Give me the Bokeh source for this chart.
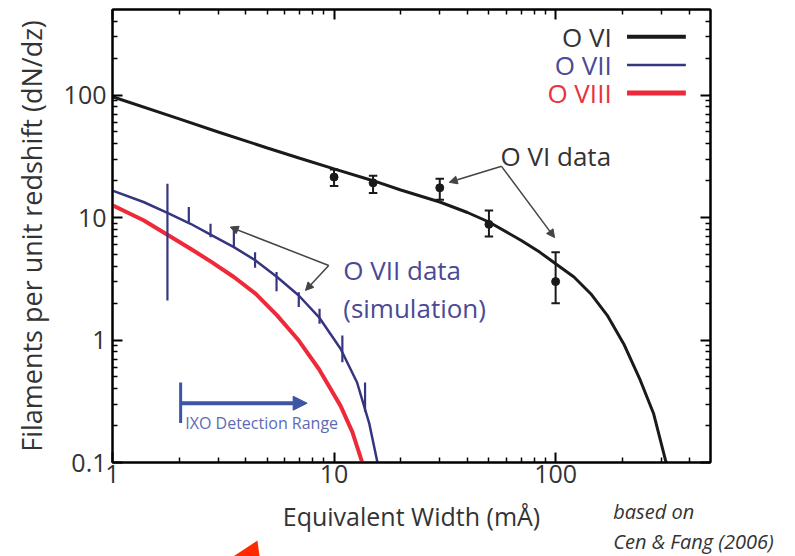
from bokeh.plotting import figure
from bokeh.models import (Range1d, LogAxis, FixedTicker, CustomJSTickFormatter,
                          Arrow, NormalHead)
from bokeh.core.properties import value
from bokeh.embed import file_html
from bokeh.resources import INLINE

# ---------------- data ----------------
ovi_x = [1, 2, 3, 5, 7, 10, 15, 20, 30, 40, 50, 70, 85, 100, 121, 144, 171, 203, 241, 277, 313, 316]
ovi_y = [97, 64, 50, 37, 30.5, 25, 20, 16.8, 13.4, 11, 9.2, 6.5, 5.2, 4.2, 3.27, 2.39, 1.59, 0.93, 0.47, 0.25, 0.105, 0.1]

ovii_x = [1, 1.38, 1.77, 2.25, 2.77, 3.53, 4.42, 5.53, 6.93, 8.54, 10.7, 12.7, 14.4, 15.7]
ovii_y = [16.6, 13.4, 10.9, 8.9, 7.25, 5.74, 4.47, 3.27, 2.31, 1.54, 0.85, 0.45, 0.21, 0.1]

oviii_x = [1, 1.38, 1.77, 2.25, 2.77, 3.53, 4.42, 5.53, 6.93, 8.54, 10.7, 12.1, 13.4]
oviii_y = [12.6, 9.5, 7.25, 5.56, 4.39, 3.27, 2.39, 1.59, 0.99, 0.58, 0.29, 0.177, 0.1]

ovi_data_x = [10, 15, 30, 50, 100]
ovi_data_y = [21.4, 19.2, 17.5, 8.8, 3.0]
ovi_err_lo = [18.1, 15.9, 14.0, 7.0, 2.0]
ovi_err_hi = [24.7, 21.9, 20.7, 11.4, 5.2]

ovii_data_x = [1.77, 2.21, 2.77, 3.53, 4.4, 5.5, 6.93, 8.6, 10.9, 13.8]
ovii_err_lo = [2.1, 9.2, 6.9, 5.7, 3.9, 2.5, 1.86, 1.36, 0.66, 0.26]
ovii_err_hi = [18.9, 12.2, 8.9, 8.4, 5.2, 3.6, 2.46, 1.8, 1.09, 0.45]

x_ticks = [1, 10, 100]
x_minor = [2, 3, 4, 5, 6, 7, 8, 9, 20, 30, 40, 50, 60, 70, 80, 90, 200, 300, 400]
y_ticks = [0.1, 1, 10, 100]
y_minor = [0.2, 0.3, 0.4, 0.5, 0.6, 0.7, 0.8, 0.9, 2, 3, 4, 5, 6, 7, 8, 9,
           20, 30, 40, 50, 60, 70, 80, 90, 200, 300, 400]

legend_labels = ["O VI", "O VII", "O VIII"]
legend_colors = ["#1a1a1a", "#36357f", "#ee2a3a"]
legend_widths = [4, 2.5, 5]
legend_text_colors = ["#333333", "#4a4a96", "#e8323c"]
legend_y = [299, 176, 104]
legend_text_x = 179
legend_line_x0 = 210
legend_line_x1 = 387

credit_lines = ["based on", "Cen & Fang (2006)"]
credit_x = [182, 182]
credit_y = [0.0399, 0.0227]

pointer_x = [4.51, 2.83, 4.7]
pointer_y = [0.0231, 0.0132, 0.0132]

FONT = "Open Sans"
BLACK = "#1a1a1a"
BLUE = "#36357f"
RED = "#ee2a3a"

p = figure(width=795, height=556, x_axis_type="log", y_axis_type="log",
           x_range=Range1d(1, 500), y_range=Range1d(0.1, 500),
           output_backend="svg", toolbar_location=None,
           min_border_left=112, min_border_right=85, min_border_top=9, min_border_bottom=94)
p.background_fill_color = "white"
p.border_fill_color = "white"
p.outline_line_color = "black"
p.outline_line_width = 2
p.xgrid.visible = False
p.ygrid.visible = False

fmt = CustomJSTickFormatter(code="return tick >= 1 ? tick.toFixed(0) : tick.toFixed(1);")

def style_axis(ax, ticks, minor, labels=True):
    ax.ticker = FixedTicker(ticks=ticks, minor_ticks=minor)
    ax.axis_line_color = "black"
    ax.axis_line_width = 2
    ax.major_tick_in = 10
    ax.major_tick_out = 0
    ax.minor_tick_in = 5
    ax.minor_tick_out = 0
    ax.major_tick_line_width = 2
    ax.minor_tick_line_width = 1.5
    ax.major_tick_line_color = "black"
    ax.minor_tick_line_color = "black"
    if labels:
        ax.formatter = fmt
        ax.major_label_text_font = FONT
        ax.major_label_text_font_size = "25px"
        ax.major_label_text_color = "#333333"
    else:
        ax.major_label_text_font_size = "1px"
        ax.major_label_text_alpha = 0
        ax.major_label_standoff = 0

xa = p.xaxis[0]
style_axis(xa, x_ticks, x_minor)
xa.major_label_standoff = 2
xa.axis_label = "Equivalent Width (mÅ)"
xa.axis_label_text_font = FONT
xa.axis_label_text_font_size = "25px"
xa.axis_label_text_font_style = "normal"
xa.axis_label_text_color = "#333333"
xa.axis_label_standoff = 13

ya = p.yaxis[0]
style_axis(ya, y_ticks, y_minor)
ya.major_label_standoff = 6
ya.major_label_orientation = "horizontal"
ya.axis_label = "Filaments per unit redshift (dN/dz)"
ya.axis_label_text_font = FONT
ya.axis_label_text_font_size = "27px"
ya.axis_label_text_font_style = "normal"
ya.axis_label_text_color = "#333333"
ya.axis_label_standoff = 11

top_ax = LogAxis()
style_axis(top_ax, x_ticks, x_minor, labels=False)
p.add_layout(top_ax, "above")
right_ax = LogAxis()
style_axis(right_ax, y_ticks, y_minor, labels=False)
p.add_layout(right_ax, "right")

# ---------------- curves ----------------
p.line(ovi_x, ovi_y, line_color=BLACK, line_width=3)
p.line(ovii_x, ovii_y, line_color=BLUE, line_width=2.5)
p.line(oviii_x, oviii_y, line_color=RED, line_width=4)

# O VI data with error bars
p.segment(x0=ovi_data_x, y0=ovi_err_lo, x1=ovi_data_x, y1=ovi_err_hi, line_color=BLACK, line_width=2)
cap = 1.045
p.segment(x0=[v / cap for v in ovi_data_x], y0=ovi_err_lo, x1=[v * cap for v in ovi_data_x], y1=ovi_err_lo,
          line_color=BLACK, line_width=2)
p.segment(x0=[v / cap for v in ovi_data_x], y0=ovi_err_hi, x1=[v * cap for v in ovi_data_x], y1=ovi_err_hi,
          line_color=BLACK, line_width=2)
p.scatter(ovi_data_x, ovi_data_y, size=8, fill_color=BLACK, line_color=BLACK)

# O VII simulated data
p.segment(x0=ovii_data_x, y0=ovii_err_lo, x1=ovii_data_x, y1=ovii_err_hi, line_color=BLUE, line_width=2.2)

# ---------------- legend ----------------
p.text(x=[legend_text_x] * 3, y=legend_y, text=legend_labels, text_align="right", text_baseline="middle",
       text_font=value(FONT), text_font_size="26px", text_color=legend_text_colors)
for yy, c, w in zip(legend_y, legend_colors, legend_widths):
    p.segment(x0=[legend_line_x0], y0=[yy], x1=[legend_line_x1], y1=[yy], line_color=c, line_width=w)

# ---------------- annotations ----------------
p.text(x=[56.4], y=[31.6], text=["O VI data"], text_align="left", text_baseline="middle",
       text_font=value(FONT), text_font_size="26px", text_color="#333333")
p.text(x=[11.0, 11.0], y=[3.75, 1.83], text=["O VII data", "(simulation)"], text_align="left",
       text_baseline="middle", text_font=value(FONT), text_font_size="26px", text_color="#4a4a96")

ARROW_C = "#444444"
ovi_apex = (57, 26.2)
for end in [(33.1, 19.4), (98.9, 6.86)]:
    p.add_layout(Arrow(x_start=ovi_apex[0], y_start=ovi_apex[1], x_end=end[0], y_end=end[1],
                       line_color=ARROW_C, line_width=1.5,
                       end=NormalHead(size=8, fill_color=ARROW_C, line_color=ARROW_C)))
ovii_apex = (9.46, 4.06)
for end in [(3.4, 8.36), (7.43, 2.54)]:
    p.add_layout(Arrow(x_start=ovii_apex[0], y_start=ovii_apex[1], x_end=end[0], y_end=end[1],
                       line_color=ARROW_C, line_width=1.5,
                       end=NormalHead(size=8, fill_color=ARROW_C, line_color=ARROW_C)))

# IXO detection range
IXO_C = "#3c55a5"
p.segment(x0=[2.03], y0=[0.21], x1=[2.03], y1=[0.45], line_color=IXO_C, line_width=3)
p.add_layout(Arrow(x_start=2.03, y_start=0.305, x_end=7.56, y_end=0.305, line_color=IXO_C, line_width=4,
                   end=NormalHead(size=14, fill_color=IXO_C, line_color=IXO_C)))
p.text(x=[2.13], y=[0.21], text=["IXO Detection Range"], text_align="left", text_baseline="middle",
       text_font=value(FONT), text_font_size="16px", text_color="#5b6bb5")

# credit (outside the frame, drawn on the overlay level so it is not clipped)
p.text(x=credit_x, y=credit_y, text=credit_lines, text_align="left", text_baseline="middle",
       text_font=value(FONT), text_font_size="20px", text_font_style="italic", text_color="#333333",
       level="overlay")

# red pointer fragment at the bottom edge
p.patch(pointer_x, pointer_y, fill_color="#ff2a00", line_color=None, level="overlay")

open("out.html", "w").write(file_html(p, INLINE))
